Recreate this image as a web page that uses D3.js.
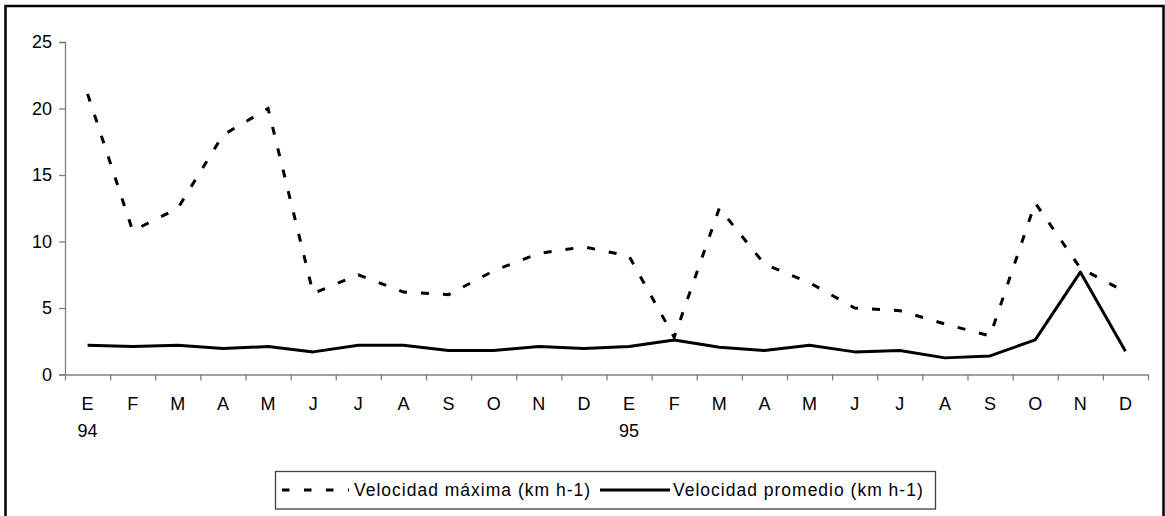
<!DOCTYPE html>
<html>
<head>
<meta charset="utf-8">
<script src="https://cdn.jsdelivr.net/npm/d3@7"></script>
<style>
  html, body { margin: 0; padding: 0; background: #fff; }
  svg { display: block; }
  text { font-family: "Liberation Sans", Arial, sans-serif; fill: #000; }
</style>
</head>
<body>
<svg id="chart" width="1165" height="516"></svg>
<script>
// Monthly wind speed, January 1994 – December 1995
const months = ["E","F","M","A","M","J","J","A","S","O","N","D",
                "E","F","M","A","M","J","J","A","S","O","N","D"];
const years = ["94","","","","","","","","","","","",
               "95","","","","","","","","","","",""];
const velocidadMaxima = [21.1, 10.8, 12.5, 18.0, 20.0, 6.1, 7.5, 6.2, 6.0, 7.8, 9.1, 9.6,
                         8.9, 2.8, 12.5, 8.3, 6.9, 5.0, 4.8, 3.8, 2.9, 12.9, 8.0, 6.2];
const velocidadPromedio = [2.2, 2.1, 2.2, 1.95, 2.1, 1.7, 2.2, 2.2, 1.8, 1.8, 2.1, 1.95,
                           2.1, 2.6, 2.05, 1.8, 2.2, 1.7, 1.8, 1.25, 1.4, 2.6, 7.7, 1.75];
const yTicks = [0, 5, 10, 15, 20, 25];
const seriesNames = ["Velocidad máxima (km h-1)", "Velocidad promedio (km h-1)"];

const svg = d3.select("#chart");

// outer frame
svg.append("rect")
  .attr("x", 5.5).attr("y", 6).attr("width", 1158).attr("height", 600)
  .attr("fill", "none").attr("stroke", "#000").attr("stroke-width", 2.5);

const plotLeft = 65, plotRight = 1148, plotTop = 42, plotBottom = 374.5;
const idx = d3.range(months.length);

const x = d3.scaleBand().domain(idx).range([plotLeft, plotRight]);
const xEdges = d3.scaleLinear().domain([0, months.length]).range([plotLeft, plotRight]);
const y = d3.scaleLinear().domain([0, 25]).range([plotBottom, plotTop]);

const axisColor = "#808080";

// y axis
const gy = svg.append("g").attr("transform", `translate(${plotLeft},0)`)
  .call(d3.axisLeft(y).tickValues(yTicks).tickSize(6).tickPadding(7).tickFormat(d3.format("d")));
gy.select(".domain").attr("stroke", axisColor).attr("stroke-width", 1.3);
gy.selectAll(".tick line").attr("stroke", axisColor).attr("stroke-width", 1.3);
gy.selectAll(".tick text").attr("font-size", 18).attr("fill", "#000")
  .style("font-family", "'Liberation Sans', Arial, sans-serif");

// x axis: ticks on month boundaries
const gx = svg.append("g").attr("transform", `translate(0,${plotBottom})`)
  .call(d3.axisBottom(xEdges).tickValues(d3.range(months.length + 1)).tickSize(6).tickSizeOuter(0).tickFormat(""));
gx.select(".domain").attr("stroke", axisColor).attr("stroke-width", 1.3);
gx.selectAll(".tick line").attr("stroke", axisColor).attr("stroke-width", 1.3);

// month and year labels centred in each band
const labels = svg.append("g");
labels.selectAll("text.m").data(idx).join("text")
  .attr("class", "m")
  .attr("x", i => x(i) + x.bandwidth() / 2)
  .attr("y", 410)
  .attr("text-anchor", "middle")
  .attr("font-size", 18)
  .text(i => months[i]);
labels.selectAll("text.yr").data(idx.filter(i => years[i])).join("text")
  .attr("class", "yr")
  .attr("x", i => x(i) + x.bandwidth() / 2)
  .attr("y", 437)
  .attr("text-anchor", "middle")
  .attr("font-size", 18)
  .text(i => years[i]);

const line = (vals) => d3.line()
  .x((d, i) => x(i) + x.bandwidth() / 2)
  .y(d => y(d))(vals);

svg.append("path")
  .attr("d", line(velocidadMaxima))
  .attr("fill", "none").attr("stroke", "#000").attr("stroke-width", 3)
  .attr("stroke-dasharray", "8,14");

svg.append("path")
  .attr("d", line(velocidadPromedio))
  .attr("fill", "none").attr("stroke", "#000").attr("stroke-width", 3)
  .attr("stroke-linejoin", "round");

// legend
const lg = svg.append("g");
lg.append("rect")
  .attr("x", 275.5).attr("y", 471.5).attr("width", 660).attr("height", 37.5)
  .attr("fill", "#fff").attr("stroke", "#404040").attr("stroke-width", 1.3);
const ly = 490;
lg.append("line")
  .attr("x1", 282).attr("x2", 349).attr("y1", ly).attr("y2", ly)
  .attr("stroke", "#000").attr("stroke-width", 3).attr("stroke-dasharray", "7.5,14.5");
lg.append("text")
  .attr("x", 354).attr("y", ly).attr("dy", "0.35em")
  .attr("font-size", 17.5).attr("letter-spacing", 1.0)
  .text(seriesNames[0]);
lg.append("line")
  .attr("x1", 600).attr("x2", 670).attr("y1", ly).attr("y2", ly)
  .attr("stroke", "#000").attr("stroke-width", 3);
lg.append("text")
  .attr("x", 673).attr("y", ly).attr("dy", "0.35em")
  .attr("font-size", 17.5).attr("letter-spacing", 1.0)
  .text(seriesNames[1]);
</script>
</body>
</html>
